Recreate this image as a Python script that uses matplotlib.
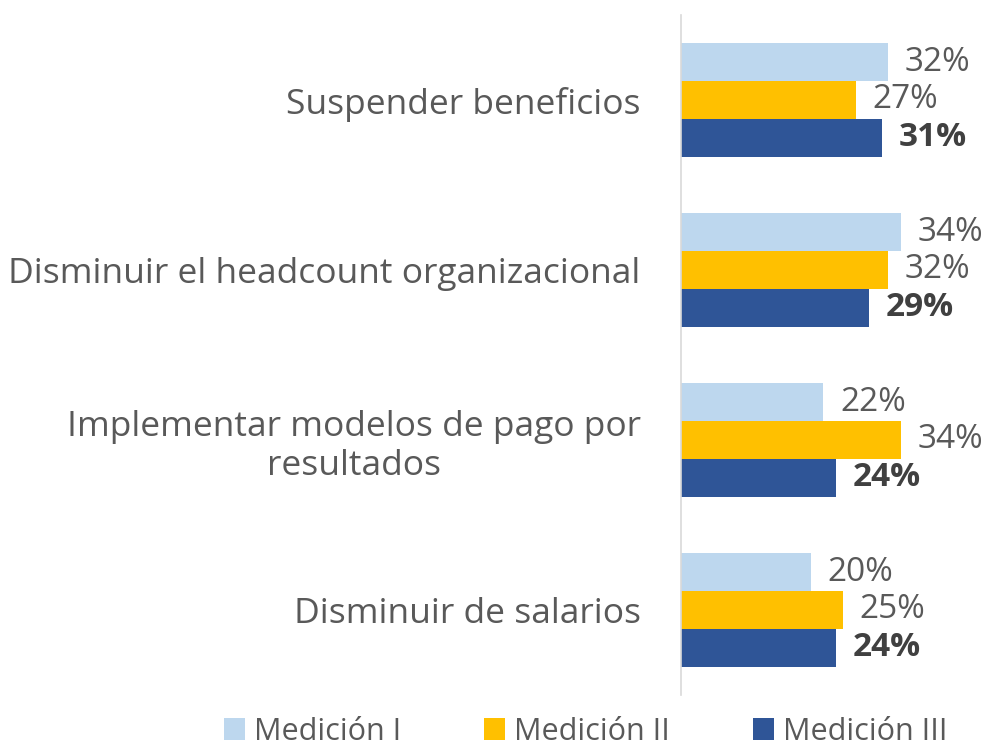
import numpy as np
import matplotlib.pyplot as plt
from matplotlib.patches import Patch

plt.rcParams['font.family'] = ['Open Sans', 'DejaVu Sans']

categorias = ['Suspender beneficios', 'Disminuir el headcount organizacional',
              'Implementar modelos de pago por\nresultados', 'Disminuir de salarios']
medicion_1 = [0.32, 0.34, 0.22, 0.20]
medicion_2 = [0.27, 0.32, 0.34, 0.25]
medicion_3 = [0.31, 0.29, 0.24, 0.24]
series = ['Medición I', 'Medición II', 'Medición III']
colores = ['#BDD7EE', '#FFC000', '#2F5597']

fig = plt.figure(figsize=(9.91, 7.52), dpi=100)
ax = fig.add_axes([681 / 991, 57 / 752, 0.283, 680 / 752])

y = np.arange(len(categorias))
h = 0.222
texto = '#595959'
for i, (vals, col) in enumerate(zip([medicion_1, medicion_2, medicion_3], colores)):
    pos = y + (i - 1) * h
    ax.barh(pos, vals, height=h, color=col, edgecolor='none')
    for p, v in zip(pos, vals):
        peso = 'bold' if i == 2 else 'normal'
        c = '#404040' if i == 2 else texto
        ax.annotate(f'{v:.0%}', (v, p), xytext=(12, 0), textcoords='offset points',
                    va='center', ha='left', fontsize=24, color=c, fontweight=peso)

ax.set_ylim(len(categorias) - 0.5, -0.5)
ax.set_xlim(0, 0.433)
ax.set_yticks(y)
ax.set_yticklabels(categorias, fontsize=25.5, color=texto, ha='right')
ax.tick_params(axis='y', length=0, pad=29)
ax.set_xticks([])
for s in ['top', 'right', 'bottom']:
    ax.spines[s].set_visible(False)
ax.spines['left'].set_color('#D9D9D9')
ax.spines['left'].set_linewidth(1.2)
for lbl in ax.get_yticklabels():
    lbl.set_multialignment('center')

handles = [Patch(facecolor=c, edgecolor='none') for c in colores]
fig.legend(handles, series, loc='center', bbox_to_anchor=(0.591, 0.027), ncol=3,
           frameon=False, fontsize=22, labelcolor=texto, handlelength=0.7,
           handleheight=0.7, handletextpad=0.3, columnspacing=2.7,
           borderpad=0)

fig.savefig('out.png', dpi=100)
